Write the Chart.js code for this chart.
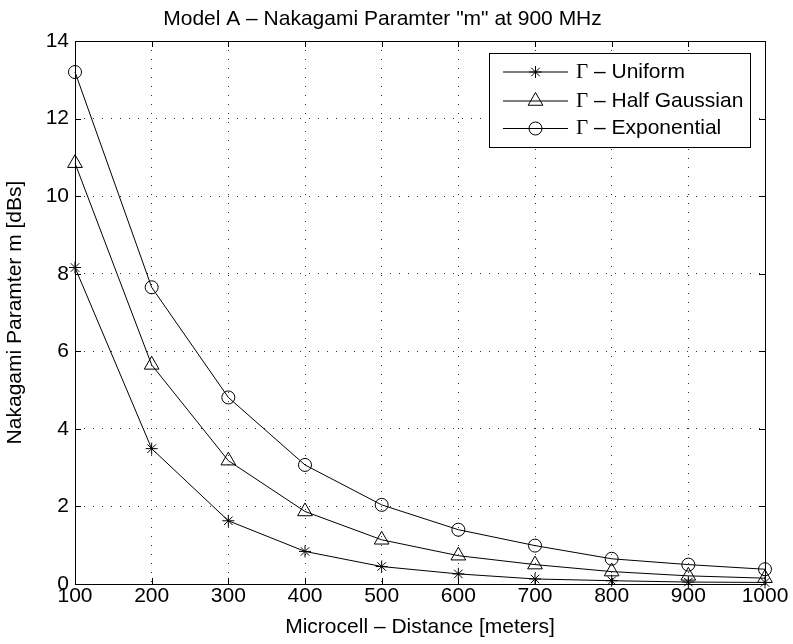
<!DOCTYPE html>
<html lang="en">
<head>
<meta charset="UTF-8">
<title>Model A - Nakagami Paramter "m" at 900 MHz</title>
<script src="https://cdn.jsdelivr.net/npm/chart.js"></script>
<style>
  html, body { margin: 0; padding: 0; background: #fff; }
  canvas { display: block; }
</style>
</head>
<body>
<canvas id="nakagamiChart" width="793" height="644"></canvas>
<script>
// distance (m) and Nakagami m (dB)
const distances = [100, 200, 300, 400, 500, 600, 700, 800, 900, 1000];
const uniformM = [8.16, 3.49, 1.63, 0.84, 0.45, 0.26, 0.13, 0.085, 0.05, 0.04];
const halfGaussianM = [10.85, 5.65, 3.18, 1.87, 1.14, 0.73, 0.50, 0.32, 0.21, 0.15];
const exponentialM = [13.2, 7.65, 4.81, 3.07, 2.04, 1.40, 0.99, 0.65, 0.50, 0.38];
const seriesNames = ['Uniform', 'Half Gaussian', 'Exponential'];
const xTickValues = [100, 200, 300, 400, 500, 600, 700, 800, 900, 1000];
const yTickValues = [0, 2, 4, 6, 8, 10, 12, 14];

const SANS = '"Liberation Sans", Arial, Helvetica, sans-serif';
const SERIF = '"Liberation Serif", "Times New Roman", serif';
const FS = 21;
Chart.defaults.font.family = SANS;
Chart.defaults.font.size = FS;
Chart.defaults.color = '#000';

const markers = [
  { style: 'star', radius: 6 },
  { style: 'triangle', radius: 8.5 },
  { style: 'circle', radius: 6.5 }
];

function makeSet(label, values, m) {
  return {
    label: label,
    data: distances.map((d, i) => ({ x: d, y: values[i] })),
    borderColor: '#000',
    borderWidth: 1,
    pointStyle: m.style,
    pointRadius: m.radius,
    pointHoverRadius: m.radius,
    pointBorderColor: '#000',
    pointBackgroundColor: 'rgba(0,0,0,0)',
    pointBorderWidth: 1,
    tension: 0,
    fill: false,
    clip: false
  };
}

// simple marker drawing for the legend (same shapes as chart points)
function drawMarker(ctx, style, r, x, y) {
  ctx.beginPath();
  if (style === 'circle') {
    ctx.arc(x, y, r, 0, Math.PI * 2);
  } else if (style === 'triangle') {
    let a = 0;
    ctx.moveTo(x + Math.sin(a) * r, y - Math.cos(a) * r);
    a += Math.PI * 2 / 3;
    ctx.lineTo(x + Math.sin(a) * r, y - Math.cos(a) * r);
    a += Math.PI * 2 / 3;
    ctx.lineTo(x + Math.sin(a) * r, y - Math.cos(a) * r);
    ctx.closePath();
  } else {
    ctx.moveTo(x - r, y); ctx.lineTo(x + r, y);
    ctx.moveTo(x, y - r); ctx.lineTo(x, y + r);
    const d = r * Math.SQRT1_2;
    ctx.moveTo(x - d, y - d); ctx.lineTo(x + d, y + d);
    ctx.moveTo(x - d, y + d); ctx.lineTo(x + d, y - d);
  }
  ctx.stroke();
}

// matlab-ish box: full frame, inward ticks on all sides, boxed legend
const matlabFrame = {
  id: 'matlabFrame',
  afterDraw(chart) {
    const ctx = chart.ctx;
    const a = chart.chartArea;
    const xs = chart.scales.x, ys = chart.scales.y;
    const tl = 6;
    ctx.save();
    ctx.strokeStyle = '#000';
    ctx.lineWidth = 1;
    ctx.beginPath();
    xTickValues.forEach(v => {
      const px = Math.round(xs.getPixelForValue(v)) + 0.5;
      ctx.moveTo(px, a.bottom); ctx.lineTo(px, a.bottom - tl);
      ctx.moveTo(px, a.top); ctx.lineTo(px, a.top + tl);
    });
    yTickValues.forEach(v => {
      const py = Math.round(ys.getPixelForValue(v)) + 0.5;
      ctx.moveTo(a.left, py); ctx.lineTo(a.left + tl, py);
      ctx.moveTo(a.right, py); ctx.lineTo(a.right - tl, py);
    });
    ctx.stroke();
    ctx.strokeRect(Math.round(a.left) + 0.5, Math.round(a.top) + 0.5,
      Math.round(a.right - a.left), Math.round(a.bottom - a.top));

    // legend
    const box = { x: 489.5, y: 53.5, w: 261, h: 94 };
    ctx.fillStyle = '#fff';
    ctx.fillRect(box.x, box.y, box.w, box.h);
    ctx.strokeRect(box.x, box.y, box.w, box.h);
    const rowY = [72, 101, 128.5];
    chart.data.datasets.forEach((ds, i) => {
      const y = rowY[i];
      ctx.beginPath();
      ctx.moveTo(503, y); ctx.lineTo(568, y);
      ctx.stroke();
      drawMarker(ctx, ds.pointStyle, ds.pointRadius, 535.5, y);
      ctx.fillStyle = '#000';
      ctx.textBaseline = 'middle';
      ctx.textAlign = 'left';
      ctx.font = FS + 'px ' + SERIF;
      ctx.fillText('\u0393', 576, y);
      const gw = ctx.measureText('\u0393').width;
      ctx.font = FS + 'px ' + SANS;
      ctx.fillText(' \u2013 ' + ds.label, 576 + gw, y);
    });
    ctx.restore();
  }
};

new Chart(document.getElementById('nakagamiChart'), {
  type: 'line',
  data: {
    datasets: [
      makeSet(seriesNames[0], uniformM, markers[0]),
      makeSet(seriesNames[1], halfGaussianM, markers[1]),
      makeSet(seriesNames[2], exponentialM, markers[2])
    ]
  },
  options: {
    responsive: false,
    devicePixelRatio: 1,
    animation: false,
    events: [],
    layout: { padding: { left: 0, right: 28, top: 0, bottom: 0 } },
    plugins: {
      legend: { display: false },
      tooltip: { enabled: false },
      title: {
        display: true,
        text: 'Model A \u2013 Nakagami Paramter "m" at 900 MHz',
        font: { size: FS, weight: 'normal', lineHeight: 1.2 },
        color: '#000',
        padding: { top: 7, bottom: 8.8 }
      }
    },
    scales: {
      x: {
        type: 'linear',
        min: 100,
        max: 1000,
        afterBuildTicks: s => { s.ticks = xTickValues.map(v => ({ value: v })); },
        afterFit: s => { s.height = 60; },
        ticks: { padding: 0, maxRotation: 0, autoSkip: false, font: { size: FS },
                 callback: v => String(v) },
        grid: { color: '#333', lineWidth: 1, drawTicks: false },
        border: { display: false, dash: [1, 8] },
        title: {
          display: true,
          text: 'Microcell \u2013 Distance [meters]',
          font: { size: FS },
          padding: { top: 0, bottom: 4 }
        }
      },
      y: {
        type: 'linear',
        min: 0,
        max: 14,
        afterBuildTicks: s => { s.ticks = yTickValues.map(v => ({ value: v })); },
        afterFit: s => { s.width = 75; },
        ticks: { padding: 6, autoSkip: false, font: { size: FS },
                 callback: v => String(v) },
        grid: { color: '#333', lineWidth: 1, drawTicks: false },
        border: { display: false, dash: [1, 8] },
        title: {
          display: true,
          text: 'Nakagami Paramter m [dBs]',
          font: { size: FS },
          padding: { top: 3, bottom: 0 }
        }
      }
    }
  },
  plugins: [matlabFrame]
});
</script>
</body>
</html>
